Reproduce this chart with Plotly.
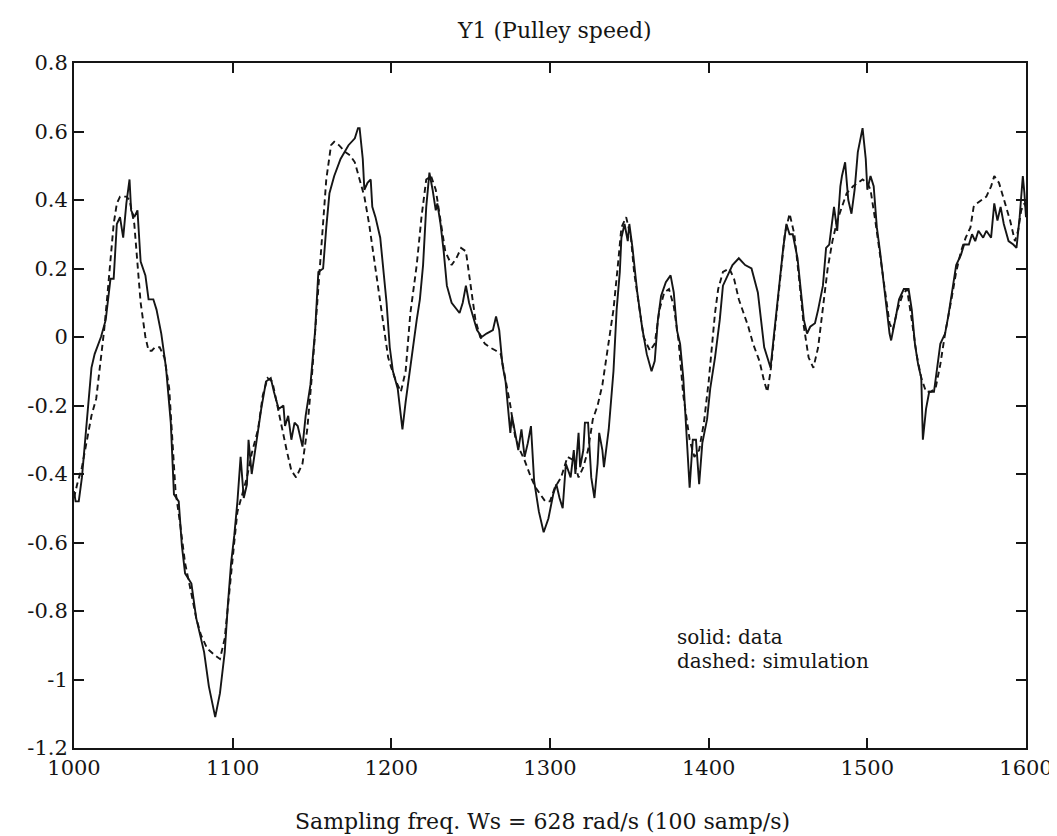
import plotly.graph_objects as go

# ---- data ----
data_x = [1000,1001,1003,1005,1008,1011,1013,1017,1020,1023,1025,1027,1029,1031,1033,1035,1036,1038,1040,1042,
          1045,1047,1050,1052,1055,1058,1061,1063,1066,1068,1070,1074,1077,1080,1082,1085,1089,1092,1095,1097,
          1099,1101,1103,1105,1107,1109,1110,1112,1115,1118,1121,1124,1126,1129,1132,1133,1135,1137,1139,1141,
          1144,1146,1149,1152,1154,1157,1159,1161,1164,1168,1173,1177,1179,1180,1182,1183,1185,1187,1188,1190,
          1193,1195,1197,1199,1201,1204,1207,1209,1212,1216,1218,1220,1222,1224,1226,1228,1229,1231,1233,1235,
          1238,1241,1243,1245,1247,1249,1251,1254,1257,1260,1264,1266,1268,1270,1272,1274,1275,1276,1278,1280,
          1282,1284,1286,1288,1290,1293,1296,1299,1302,1304,1306,1308,1310,1313,1315,1316,1318,1319,1321,1322,
          1324,1326,1328,1330,1331,1333,1334,1337,1340,1342,1344,1345,1347,1349,1350,1352,1355,1358,1361,1364,
          1366,1368,1370,1373,1376,1378,1380,1382,1384,1386,1388,1390,1392,1394,1396,1399,1401,1404,1407,1409,
          1412,1415,1419,1423,1427,1431,1433,1435,1437,1439,1441,1444,1447,1449,1451,1453,1456,1458,1460,1462,
          1464,1467,1469,1472,1474,1476,1477,1479,1481,1483,1484,1486,1488,1490,1492,1494,1497,1499,1500,1502,
          1504,1506,1508,1510,1512,1514,1515,1518,1520,1523,1526,1528,1530,1532,1534,1535,1537,1539,1542,1544,
          1546,1549,1551,1554,1556,1559,1561,1564,1566,1568,1570,1573,1575,1578,1580,1582,1584,1586,1589,1592,
          1594,1596,1598,1599,1600]
data_y = [-0.45,-0.48,-0.48,-0.41,-0.25,-0.09,-0.05,0.00,0.05,0.17,0.17,0.33,0.35,0.29,0.39,0.46,0.37,0.35,0.37,0.22,
          0.18,0.11,0.11,0.08,0.01,-0.09,-0.25,-0.46,-0.48,-0.61,-0.69,-0.72,-0.82,-0.88,-0.92,-1.02,-1.11,-1.04,-0.92,-0.78,
          -0.66,-0.58,-0.48,-0.35,-0.47,-0.43,-0.30,-0.40,-0.30,-0.21,-0.13,-0.12,-0.16,-0.21,-0.20,-0.26,-0.23,-0.30,-0.25,-0.26,
          -0.32,-0.23,-0.14,0.02,0.19,0.20,0.32,0.42,0.47,0.52,0.56,0.58,0.61,0.61,0.52,0.43,0.45,0.46,0.38,0.35,
          0.29,0.19,0.10,-0.03,-0.10,-0.15,-0.27,-0.19,-0.08,0.05,0.11,0.21,0.38,0.48,0.43,0.37,0.39,0.33,0.25,0.15,
          0.10,0.08,0.07,0.10,0.15,0.10,0.07,0.02,0.00,0.01,0.02,0.06,0.02,-0.08,-0.13,-0.22,-0.28,-0.23,-0.28,-0.33,
          -0.27,-0.35,-0.31,-0.26,-0.42,-0.51,-0.57,-0.53,-0.46,-0.43,-0.47,-0.50,-0.37,-0.41,-0.33,-0.40,-0.28,-0.38,-0.33,-0.25,
          -0.25,-0.41,-0.47,-0.37,-0.28,-0.33,-0.38,-0.27,-0.10,0.08,0.19,0.29,0.33,0.28,0.33,0.26,0.13,0.03,-0.05,-0.10,
          -0.07,0.05,0.12,0.16,0.18,0.13,0.02,-0.02,-0.12,-0.28,-0.44,-0.30,-0.30,-0.43,-0.31,-0.24,-0.15,-0.06,0.05,0.15,
          0.18,0.21,0.23,0.21,0.20,0.13,0.05,-0.03,-0.06,-0.09,0.00,0.14,0.26,0.33,0.30,0.30,0.23,0.14,0.05,0.01,
          0.03,0.04,0.08,0.15,0.26,0.27,0.31,0.38,0.31,0.44,0.47,0.51,0.40,0.36,0.43,0.54,0.61,0.52,0.43,0.47,
          0.44,0.32,0.25,0.16,0.09,0.01,-0.01,0.06,0.11,0.14,0.14,0.08,-0.02,-0.08,-0.12,-0.30,-0.21,-0.16,-0.16,-0.09,
          -0.02,0.01,0.06,0.15,0.21,0.24,0.27,0.27,0.30,0.28,0.31,0.29,0.31,0.29,0.39,0.34,0.38,0.33,0.28,0.27,
          0.26,0.35,0.47,0.42,0.35]

sim_x = [1000,1002,1005,1008,1011,1014,1017,1019,1021,1023,1025,1027,1029,1033,1035,1038,1040,1042,1045,1047,
         1049,1051,1054,1057,1060,1062,1064,1067,1070,1074,1077,1080,1084,1089,1092,1095,1097,1099,1101,1103,
         1106,1109,1112,1116,1119,1122,1125,1128,1131,1134,1137,1140,1144,1147,1150,1153,1156,1159,1162,1164,
         1167,1171,1174,1177,1180,1183,1186,1189,1192,1195,1198,1200,1203,1206,1209,1212,1216,1219,1222,1225,
         1228,1231,1234,1238,1241,1244,1247,1250,1253,1256,1259,1262,1266,1269,1272,1275,1278,1281,1284,1288,
         1291,1294,1297,1300,1303,1307,1311,1315,1318,1321,1324,1327,1330,1333,1336,1340,1343,1345,1348,1351,
         1353,1356,1359,1363,1366,1369,1372,1375,1378,1381,1384,1388,1391,1394,1397,1400,1402,1404,1406,1409,
         1413,1416,1419,1422,1425,1428,1432,1435,1437,1439,1442,1445,1448,1451,1454,1457,1460,1463,1466,1469,
         1472,1475,1478,1481,1484,1487,1491,1494,1497,1500,1502,1505,1508,1511,1514,1516,1519,1522,1525,1528,
         1531,1534,1537,1540,1543,1546,1549,1553,1556,1559,1562,1565,1567,1569,1572,1575,1578,1580,1583,1587,
         1590,1593,1595,1597,1599,1600]
sim_y = [-0.47,-0.43,-0.38,-0.31,-0.23,-0.18,-0.06,0.02,0.12,0.22,0.33,0.39,0.41,0.41,0.40,0.33,0.22,0.10,0.00,-0.04,
         -0.04,-0.03,-0.03,-0.06,-0.15,-0.29,-0.45,-0.55,-0.66,-0.75,-0.82,-0.87,-0.91,-0.93,-0.94,-0.88,-0.78,-0.68,-0.60,-0.51,
         -0.46,-0.41,-0.34,-0.27,-0.17,-0.12,-0.13,-0.20,-0.27,-0.33,-0.39,-0.41,-0.37,-0.27,-0.11,0.09,0.29,0.46,0.56,0.57,
         0.56,0.54,0.53,0.51,0.46,0.41,0.33,0.23,0.13,0.03,-0.06,-0.09,-0.13,-0.16,-0.10,0.07,0.21,0.35,0.46,0.47,
         0.43,0.34,0.25,0.21,0.23,0.26,0.25,0.15,0.05,0.00,-0.02,-0.03,-0.04,-0.05,-0.12,-0.20,-0.29,-0.33,-0.36,-0.41,
         -0.44,-0.46,-0.48,-0.48,-0.44,-0.41,-0.35,-0.36,-0.41,-0.38,-0.33,-0.24,-0.20,-0.14,-0.04,0.08,0.22,0.32,0.35,0.29,
         0.19,0.09,0.00,-0.04,-0.02,0.08,0.13,0.14,0.09,-0.01,-0.17,-0.30,-0.35,-0.33,-0.25,-0.13,-0.03,0.07,0.14,0.19,
         0.20,0.17,0.11,0.07,0.03,-0.02,-0.07,-0.13,-0.16,-0.10,0.03,0.17,0.30,0.36,0.30,0.17,0.03,-0.06,-0.09,-0.03,
         0.08,0.20,0.28,0.34,0.38,0.42,0.44,0.45,0.46,0.45,0.43,0.34,0.24,0.14,0.04,0.02,0.08,0.12,0.14,0.05,
         -0.05,-0.12,-0.16,-0.16,-0.15,-0.08,0.01,0.11,0.19,0.25,0.29,0.32,0.38,0.39,0.40,0.41,0.44,0.47,0.45,0.39,
         0.34,0.28,0.31,0.37,0.39,0.38]

x_ticks = [1000, 1100, 1200, 1300, 1400, 1500, 1600]
x_ticktext = ["1000", "1100", "1200", "1300", "1400", "1500", "1600"]
y_ticks = [0.8, 0.6, 0.4, 0.2, 0, -0.2, -0.4, -0.6, -0.8, -1.0, -1.2]
y_ticktext = ["0.8", "0.6", "0.4", "0.2", "0", "-0.2", "-0.4", "-0.6", "-0.8", "-1", "-1.2"]

title_text = "Y1 (Pulley speed)"
xlabel_text = "Sampling freq. Ws = 628 rad/s (100 samp/s)"
legend_lines = ["solid: data", "dashed: simulation"]

FONT = "DejaVu Serif"
INK = "#151515"

fig = go.Figure()
fig.add_trace(go.Scatter(x=data_x, y=data_y, mode="lines",
                         line=dict(color=INK, width=1.9), name="data", showlegend=False))
fig.add_trace(go.Scatter(x=sim_x, y=sim_y, mode="lines",
                         line=dict(color=INK, width=1.9, dash="6px,4px"), name="simulation", showlegend=False))

axis_common = dict(showline=True, linewidth=2, linecolor=INK, mirror="ticks",
                   ticks="inside", ticklen=10, tickwidth=1.5, tickcolor=INK,
                   showgrid=False, zeroline=False,
                   tickfont=dict(family=FONT, size=21, color=INK))

fig.update_xaxes(range=[1000, 1600], tickvals=x_ticks, ticktext=x_ticktext, **axis_common)
fig.update_yaxes(range=[-1.2, 0.8], tickvals=y_ticks, ticktext=y_ticktext, **axis_common)

annotations = [
    dict(text=title_text, x=0.505, y=1.048, xref="paper", yref="paper",
         xanchor="center", yanchor="middle", showarrow=False,
         font=dict(family=FONT, size=22, color=INK)),
    dict(text=xlabel_text, x=0.492, y=-0.108, xref="paper", yref="paper",
         xanchor="center", yanchor="middle", showarrow=False,
         font=dict(family=FONT, size=22, color=INK)),
    dict(text=legend_lines[0], x=0.632, y=0.162, xref="paper", yref="paper",
         xanchor="left", yanchor="middle", showarrow=False, borderpad=0,
         font=dict(family=FONT, size=20, color=INK)),
    dict(text=legend_lines[1], x=0.632, y=0.127, xref="paper", yref="paper",
         xanchor="left", yanchor="middle", showarrow=False, borderpad=0,
         font=dict(family=FONT, size=20, color=INK)),
]

fig.update_layout(width=1057, height=836,
                  margin=dict(l=66, r=28, t=55, b=96),
                  paper_bgcolor="white", plot_bgcolor="white",
                  annotations=annotations, showlegend=False)

fig.write_html("out.html")
